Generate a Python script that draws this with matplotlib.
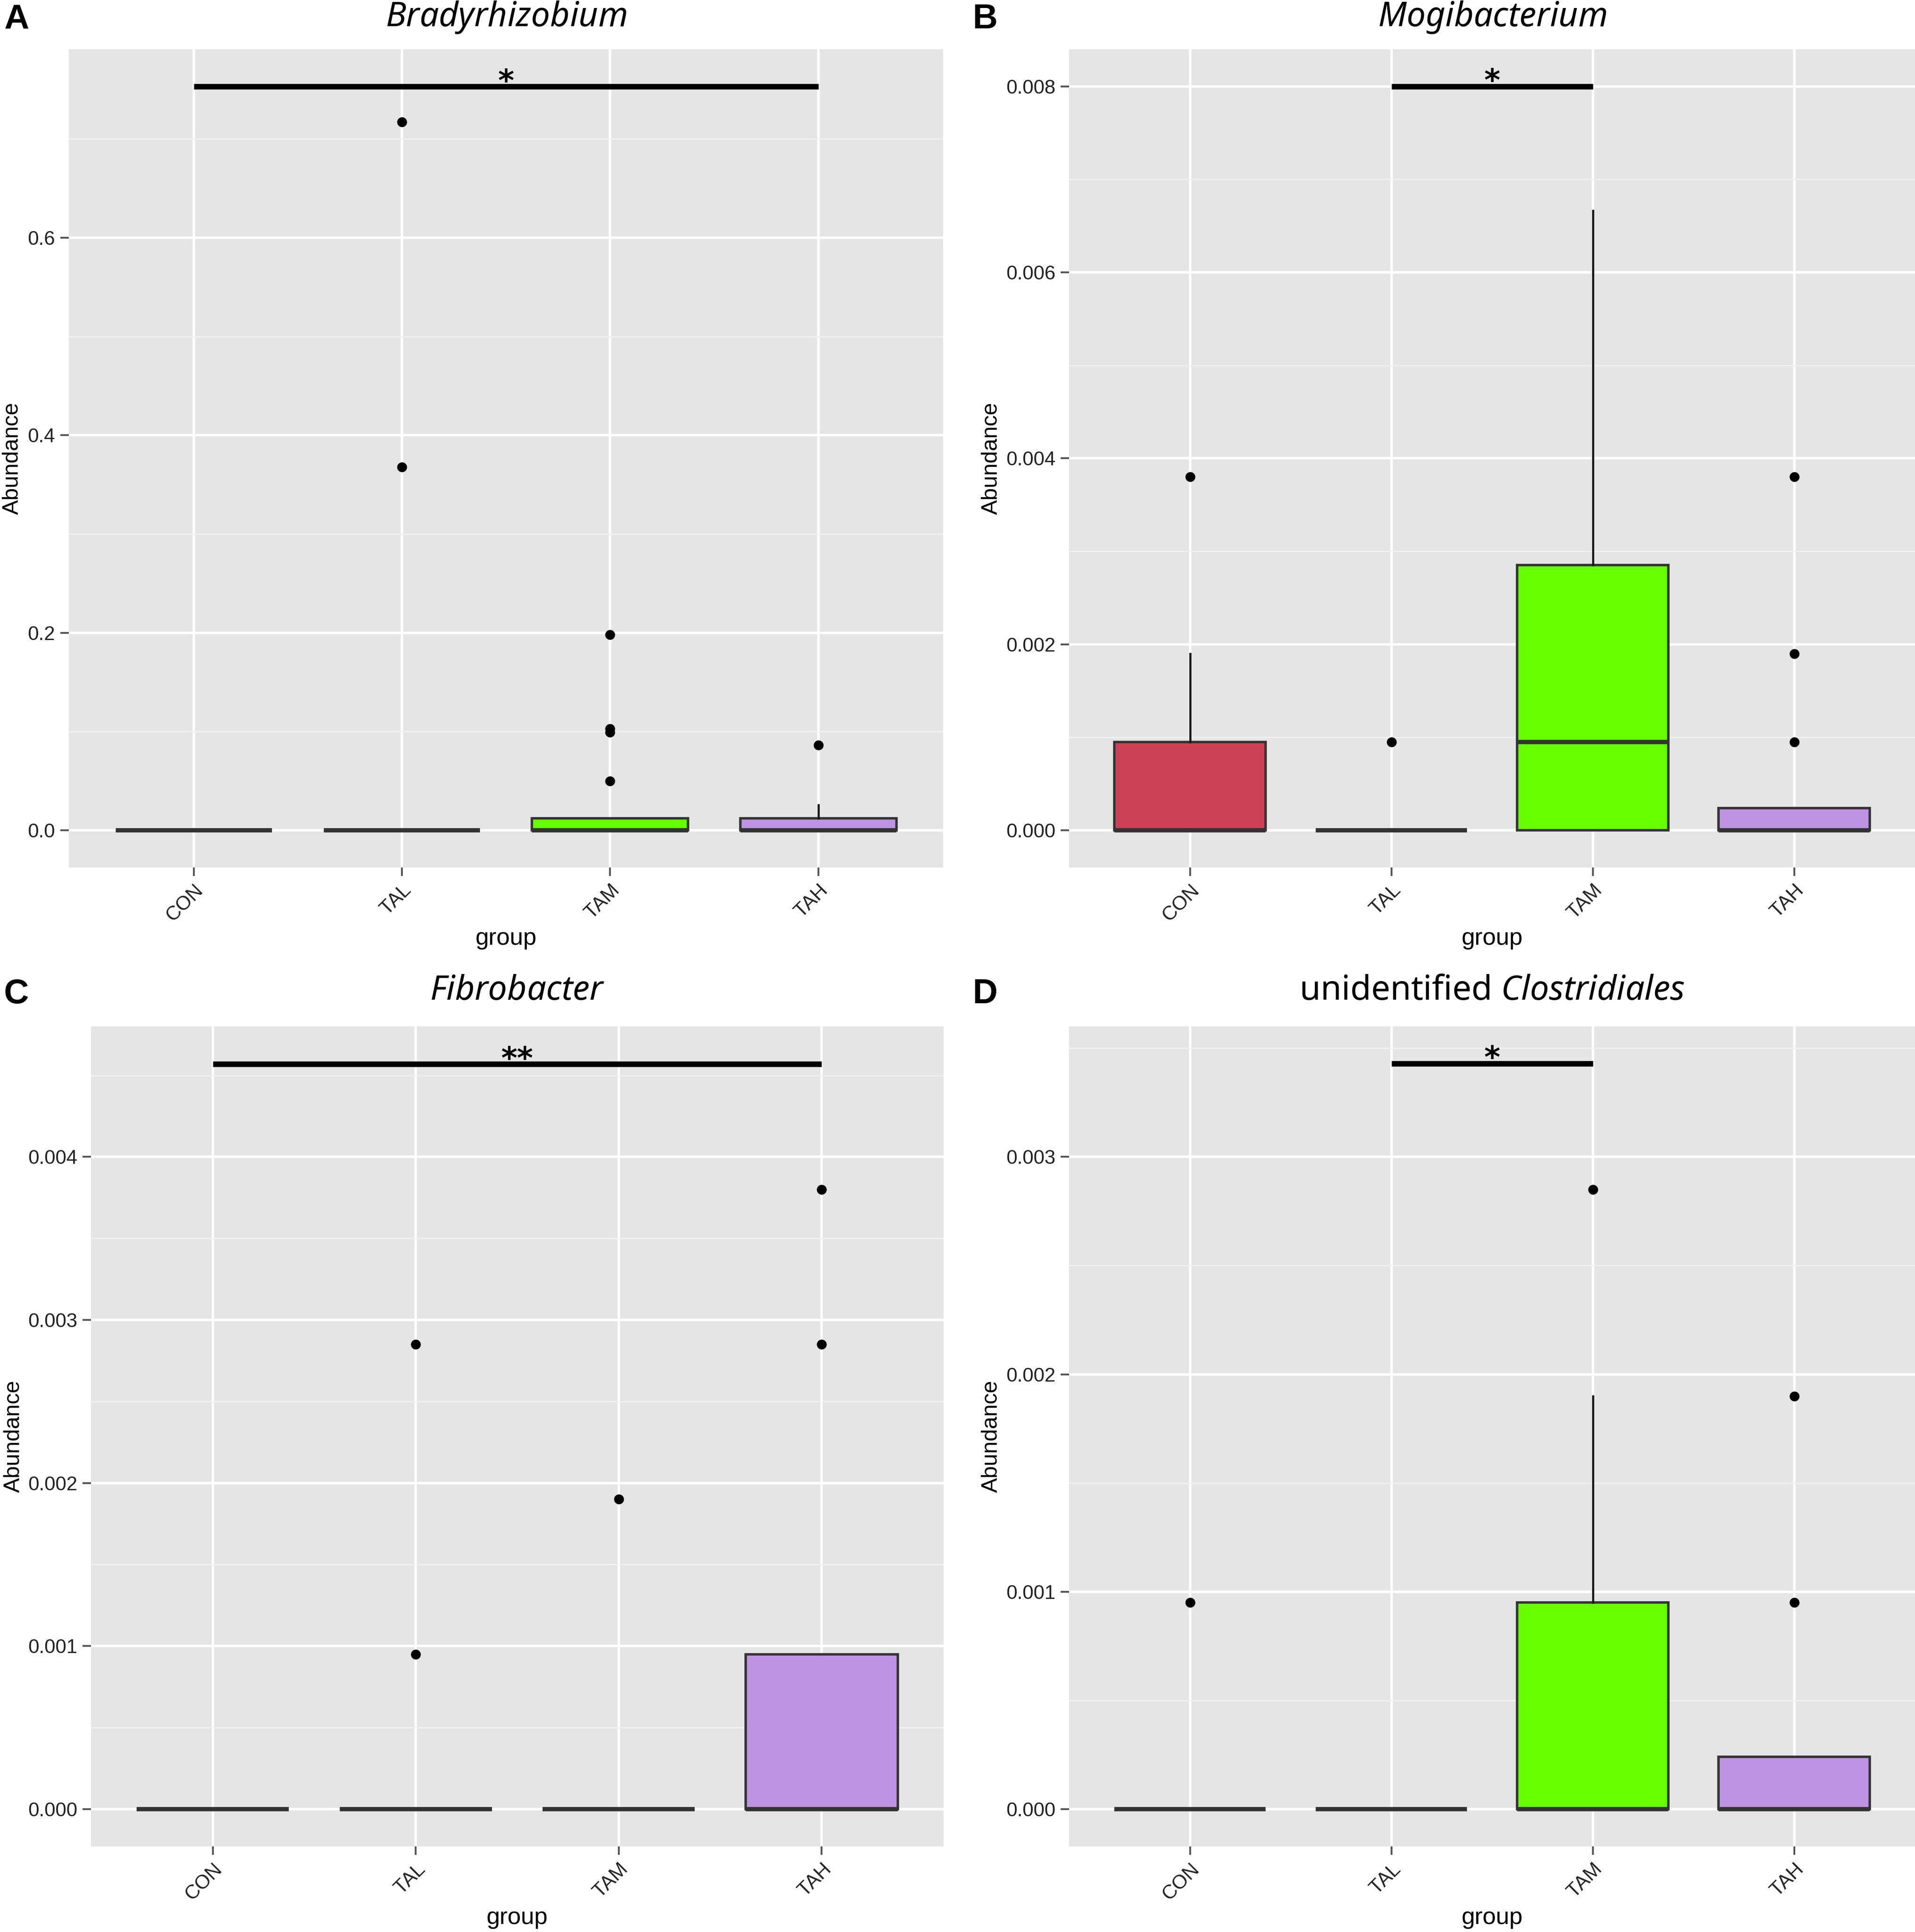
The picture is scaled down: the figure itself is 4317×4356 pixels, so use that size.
import numpy as np
import matplotlib.pyplot as plt

plt.rcParams['font.family'] = ['Liberation Sans', 'DejaVu Sans']
plt.rcParams['mathtext.fontset'] = 'custom'
plt.rcParams['mathtext.rm'] = 'Noto Sans'
plt.rcParams['mathtext.it'] = 'Noto Sans:italic'

# Grupos e cores
groups = ['CON', 'TAL', 'TAM', 'TAH']
box_colors = ['#CC4055', '#4FA8C8', '#66FF00', '#BF93E3']

# A - Bradyrhizobium
brady_q1 = [0, 0, 0, 0]
brady_med = [0, 0, 0, 0]
brady_q3 = [0, 0, 0.012, 0.012]
brady_lo = [0, 0, 0, 0]
brady_hi = [0, 0, 0.012, 0.0255]
brady_out = [[], [0.717, 0.368], [0.198, 0.103, 0.099, 0.050], [0.086]]

# B - Mogibacterium
mogi_q1 = [0, 0, 0, 0]
mogi_med = [0, 0, 0.00095, 0]
mogi_q3 = [0.00095, 0, 0.00285, 0.00024]
mogi_lo = [0, 0, 0, 0]
mogi_hi = [0.0019, 0, 0.00666, 0.00024]
mogi_out = [[0.0038], [0.00095], [], [0.0038, 0.0019, 0.00095]]

# C - Fibrobacter
fibro_q1 = [0, 0, 0, 0]
fibro_med = [0, 0, 0, 0]
fibro_q3 = [0, 0, 0, 0.00095]
fibro_lo = [0, 0, 0, 0]
fibro_hi = [0, 0, 0, 0.00095]
fibro_out = [[], [0.00285, 0.00095], [0.0019], [0.0038, 0.00285]]

# D - unidentified Clostridiales
clos_q1 = [0, 0, 0, 0]
clos_med = [0, 0, 0, 0]
clos_q3 = [0, 0, 0.00095, 0.00024]
clos_lo = [0, 0, 0, 0]
clos_hi = [0, 0, 0.0019, 0.00024]
clos_out = [[0.00095], [], [0.00285], [0.0019, 0.00095]]

# Barras de significancia: (grupo inicial, grupo final, altura, rotulo)
brady_sig = ('CON', 'TAH', 0.753, '*')
mogi_sig = ('TAL', 'TAM', 0.008, '*')
fibro_sig = ('CON', 'TAH', 0.00457, '**')
clos_sig = ('TAL', 'TAM', 0.00343, '*')

fig = plt.figure(figsize=(43.17, 43.56), dpi=100)


def panel(rect, letter, letter_xy, title, q1, med, q3, lo, hi, out, sig,
          ylim, major, fmt, ylab_x, title_y):
    ax = fig.add_axes(rect)
    ax.set_facecolor('#E5E5E5')
    stats = []
    for i in range(len(groups)):
        stats.append(dict(q1=q1[i], med=med[i], q3=q3[i], whislo=lo[i],
                          whishi=hi[i], fliers=out[i], label=groups[i]))
    bp = ax.bxp(stats, positions=range(1, 5), widths=0.75, patch_artist=True,
                showcaps=False,
                boxprops=dict(edgecolor='#333333', linewidth=4),
                whiskerprops=dict(color='#1a1a1a', linewidth=3.5),
                medianprops=dict(color='#333333', linewidth=7),
                flierprops=dict(marker='o', markerfacecolor='black',
                                markeredgecolor='black', markersize=15))
    for patch, c in zip(bp['boxes'], box_colors):
        patch.set_facecolor(c)

    # barra de significancia
    g1, g2, h, lab = sig
    x1 = groups.index(g1) + 1
    x2 = groups.index(g2) + 1
    ax.plot([x1, x2], [h, h], color='black', lw=9, solid_capstyle='butt')
    ax.annotate(lab, xy=((x1 + x2) / 2, h), xytext=(0, -7),
                textcoords='offset points', ha='center', va='baseline',
                fontsize=50, fontweight='bold', family='DejaVu Sans')

    ax.set_xticks(range(1, 5))
    ax.set_xticklabels(groups, rotation=45, ha='right', va='top',
                       rotation_mode='anchor')
    ax.set_yticks(major)
    ax.set_yticklabels([fmt.format(v) for v in major])
    step = major[1] - major[0]
    minor = [v + step / 2 for v in major if v + step / 2 < ylim[1]]
    ax.set_yticks(minor, minor=True)
    ax.set_xlim(0.4, 4.6)
    ax.set_ylim(ylim)

    ax.grid(which='major', color='white', lw=4)
    ax.grid(which='minor', axis='y', color='#F2F2F2', lw=2)
    ax.set_axisbelow(True)
    for s in ax.spines.values():
        s.set_visible(False)
    ax.tick_params(which='major', length=14, width=3, color='#555555',
                   labelsize=32, labelcolor='#222222', pad=8)
    ax.tick_params(which='minor', length=0)

    ax.set_ylabel('Abundance', fontsize=36, va='center')
    ax.yaxis.set_label_coords(ylab_x, 0.5)
    ax.set_xlabel('group', fontsize=39, va='center')
    ax.xaxis.set_label_coords(0.5, -0.087)

    ax.text(0.5, title_y, title, transform=ax.transAxes, ha='center',
            va='center', fontsize=55, family='Noto Sans')
    fig.text(letter_xy[0], letter_xy[1], letter, ha='left', va='center',
             fontsize=56, fontweight='bold', family='Liberation Sans')
    return ax


panel([0.0359, 0.551, 0.4566, 0.4236], 'A', (0.002, 0.990),
      '$\\mathit{Bradyrhizobium}$', brady_q1, brady_med, brady_q3, brady_lo,
      brady_hi, brady_out, brady_sig, (-0.0377, 0.791),
      [0.0, 0.2, 0.4, 0.6], '{:.1f}', -0.0644, 1.039)

panel([0.5583, 0.551, 0.4417, 0.4236], 'B', (0.508, 0.990),
      '$\\mathit{Mogibacterium}$', mogi_q1, mogi_med, mogi_q3, mogi_lo,
      mogi_hi, mogi_out, mogi_sig, (-0.0004, 0.0084),
      [0.000, 0.002, 0.004, 0.006, 0.008], '{:.3f}', -0.092, 1.039)

panel([0.0475, 0.0443, 0.4452, 0.4244], 'C', (0.002, 0.4855),
      '$\\mathit{Fibrobacter}$', fibro_q1, fibro_med, fibro_q3, fibro_lo,
      fibro_hi, fibro_out, fibro_sig, (-0.000229, 0.0048),
      [0.000, 0.001, 0.002, 0.003, 0.004], '{:.3f}', -0.0907, 1.0435)

panel([0.5583, 0.0443, 0.4417, 0.4244], 'D', (0.508, 0.4855),
      'unidentified $\\mathit{Clostridiales}$', clos_q1, clos_med, clos_q3,
      clos_lo, clos_hi, clos_out, clos_sig, (-0.000172, 0.0036),
      [0.000, 0.001, 0.002, 0.003], '{:.3f}', -0.092, 1.0435)

fig.savefig('out.png', dpi=100)
